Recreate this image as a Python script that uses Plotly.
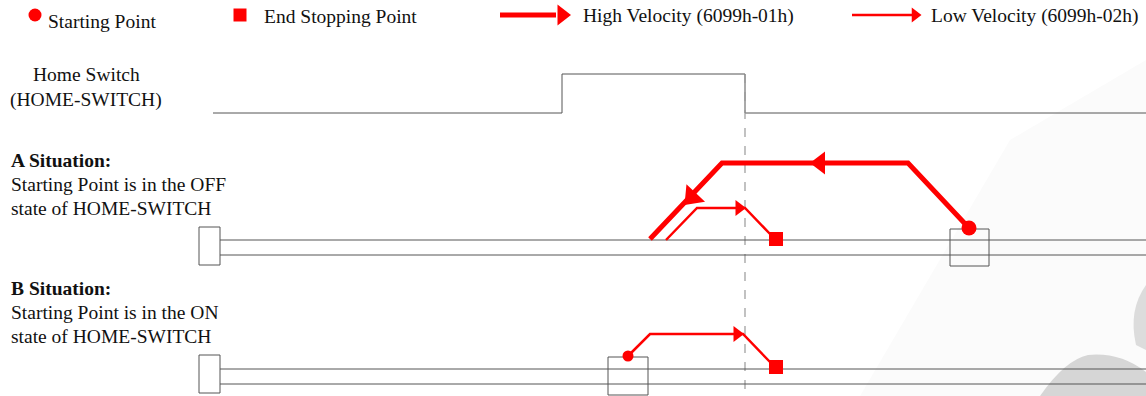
import plotly.graph_objects as go

RED = '#ff0000'
GREY = '#555555'
FONT = 'Liberation Serif'

# home switch signal (low -> high -> low)
switch_x = [213, 562, 562, 745, 745, 1146]
switch_y = [113, 113, 74, 74, 113, 113]
edge_x = 745

# rails of the two situations
rail_x = [220, 1146]
rails_a = [240, 255]
rails_b = [369, 384]

# limit boxes (left end) and start boxes
limit_box_x = [199, 220]
limit_box_a = [227, 265]
limit_box_b = [355, 393]
start_box_a_x = [950, 989]
start_box_a_y = [229, 266]
start_box_b_x = [608, 648]
start_box_b_y = [357, 395]

# situation A paths
high_a_x = [969, 908, 722, 650]
high_a_y = [228, 163, 163, 239]
low_a_x = [666, 697, 745, 772]
low_a_y = [240, 208, 208, 236]
start_a = (969, 228)
stop_a = (776, 239)

# situation B path
low_b_x = [628, 650, 743, 770]
low_b_y = [356, 334, 334, 362]
start_b = (628, 356)
stop_b = (776, 367)

legend_labels = ['Starting Point', 'End Stopping Point',
                 'High Velocity (6099h-01h)', 'Low Velocity (6099h-02h)']

fig = go.Figure()


def line(x, y, color=GREY, width=1, dash='solid'):
    fig.add_trace(go.Scatter(x=x, y=y, mode='lines', hoverinfo='skip',
                             line=dict(color=color, width=width, dash=dash)))


def marker(x, y, symbol, size, angle=0):
    fig.add_trace(go.Scatter(x=[x], y=[y], mode='markers', hoverinfo='skip',
                             marker=dict(symbol=symbol, size=size, color=RED,
                                         angle=angle, line=dict(width=0))))


def box(xs, ys):
    line([xs[0], xs[1], xs[1], xs[0], xs[0]],
         [ys[0], ys[0], ys[1], ys[1], ys[0]])


def text(x, y, s, bold=False, anchor='left'):
    if bold:
        s = '<b>' + s + '</b>'
    fig.add_annotation(x=x, y=y, text=s, showarrow=False, xanchor=anchor,
                       yanchor='middle', font=dict(family=FONT, size=19.5, color='#111'))


# faint watermark in the lower right corner
fig.add_shape(type='path', path='M 860 396 L 1010 140 L 1146 60 L 1146 396 Z',
              fillcolor='#fbfbfb', line=dict(width=0), layer='below')
fig.add_shape(type='path', path='M 1146 285 Q 1128 310 1136 345 L 1146 350 Z',
              fillcolor='#dcdcdc', line=dict(width=0), layer='below')
fig.add_shape(type='path', path='M 1040 396 Q 1065 360 1088 355 Q 1120 352 1146 372 L 1146 396 Z',
              fillcolor='#d6d6d6', line=dict(width=0), layer='below')

# legend row
marker(35, 15, 'circle', 13)
text(46, 21, legend_labels[0])
marker(240, 15, 'square', 13)
text(262, 16, legend_labels[1])
line([500, 556], [15, 15], RED, 5)
marker(562, 15, 'triangle-right', 18)
text(581, 16, legend_labels[2])
line([852, 912], [15, 15], RED, 2.5)
marker(915, 15, 'triangle-right', 13)
text(929, 16, legend_labels[3])

# home switch
text(86, 74, 'Home Switch', anchor='center')
text(86, 100, '(HOME-SWITCH)', anchor='center')
line(switch_x, switch_y)
line([edge_x, edge_x], [74, 396], '#999999', 1.2, 'dash')

# situation A
text(9, 160, 'A Situation:', bold=True)
text(9, 184, 'Starting Point is in the OFF')
text(9, 208, 'state of HOME-SWITCH')
for ry in rails_a:
    line(rail_x, [ry, ry])
box(limit_box_x, limit_box_a)
box(start_box_a_x, start_box_a_y)
line(high_a_x, high_a_y, RED, 5)
marker(820, 163, 'triangle-left', 20)
marker(692, 197, 'triangle-up', 22, angle=223)
line(low_a_x, low_a_y, RED, 2.5)
marker(739, 208, 'triangle-right', 14)
marker(start_a[0], start_a[1], 'circle', 15)
marker(stop_a[0], stop_a[1], 'square', 14)

# situation B
text(9, 288, 'B Situation:', bold=True)
text(9, 312, 'Starting Point is in the ON')
text(9, 336, 'state of HOME-SWITCH')
for ry in rails_b:
    line(rail_x, [ry, ry])
box(limit_box_x, limit_box_b)
box(start_box_b_x, start_box_b_y)
line(low_b_x, low_b_y, RED, 2.5)
marker(737, 334, 'triangle-right', 14)
marker(start_b[0], start_b[1], 'circle', 11)
marker(stop_b[0], stop_b[1], 'square', 14)

fig.update_layout(width=1146, height=396, margin=dict(l=0, r=0, t=0, b=0),
                  paper_bgcolor='white', plot_bgcolor='white', showlegend=False)
fig.update_xaxes(range=[0, 1146], visible=False)
fig.update_yaxes(range=[396, 0], visible=False)
# drop the default body margin so the figure fills the window exactly
fig.write_html('out.html', config={'displayModeBar': False},
               post_script="document.body.style.margin='0';document.body.style.overflow='hidden';")
